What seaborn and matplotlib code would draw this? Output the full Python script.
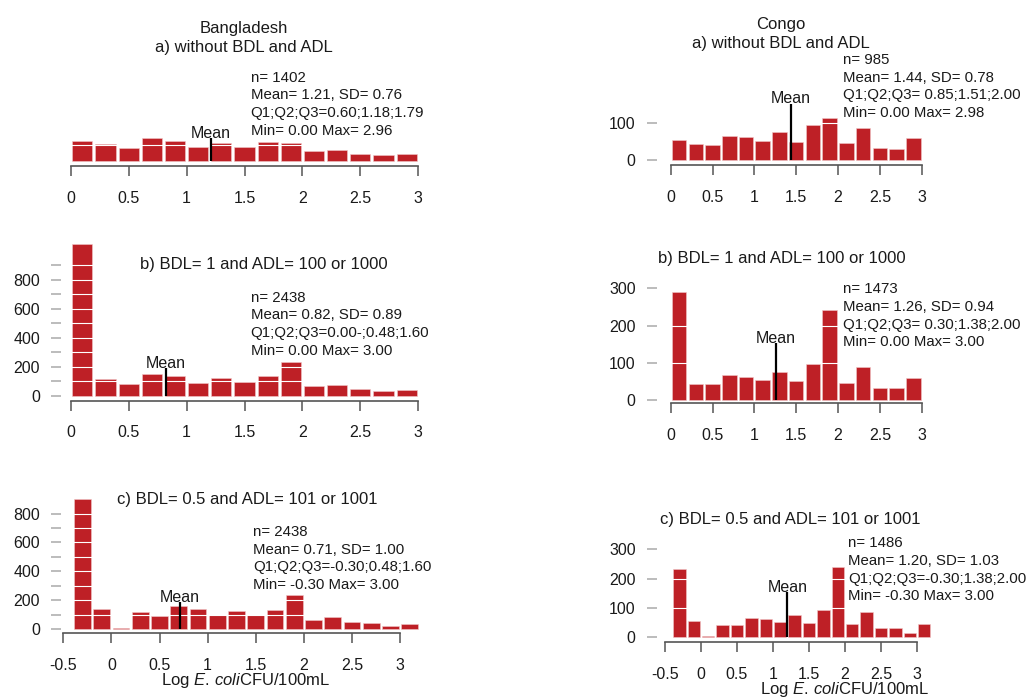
import numpy as np
import pandas as pd
import seaborn as sns
import matplotlib.pyplot as plt

# Figure size in pixels (saved at dpi 100)
W, H = 1031, 697

sns.set_style("white")
plt.rcParams['font.family'] = ['Liberation Sans', 'DejaVu Sans']
plt.rcParams['mathtext.fontset'] = 'custom'
plt.rcParams['mathtext.rm'] = 'Liberation Sans'
plt.rcParams['mathtext.it'] = 'Liberation Sans:italic'

# Histogram bin edges
edges_ab = [0.0, 0.2, 0.4, 0.6, 0.8, 1.0, 1.2, 1.4, 1.6, 1.8, 2.0, 2.2, 2.4, 2.6, 2.8, 3.0]
edges_c = [-0.4, -0.2] + edges_ab + [3.2]

# Counts per bin
bang_a = [130, 109, 82, 149, 130, 92, 113, 92, 124, 115, 63, 74, 46, 40, 44]
bang_b = [1042, 115, 85, 154, 138, 92, 122, 94, 134, 233, 67, 78, 46, 37, 44]
bang_c = [900, 140, 7, 119, 88, 160, 140, 95, 123, 95, 135, 235, 65, 81, 49, 40, 19, 35]
congo_a = [55, 44, 40, 66, 62, 52, 76, 49, 95, 114, 46, 87, 33, 30, 60]
congo_b = [290, 43, 41, 66, 62, 53, 76, 50, 95, 242, 46, 87, 32, 31, 59]
congo_c = [234, 56, 3, 42, 41, 66, 61, 53, 75, 49, 94, 241, 45, 86, 32, 31, 16, 44]

# Means and the height of the mean marker
means = [1.21, 0.82, 0.71, 1.44, 1.26, 1.20]
mean_marks = [145, 189, 184, 152, 152, 153]

# Summary text per panel
stats = [
    ["n= 1402", "Mean= 1.21, SD= 0.76", "Q1;Q2;Q3=0.60;1.18;1.79", "Min= 0.00 Max= 2.96"],
    ["n= 2438", "Mean= 0.82, SD= 0.89", "Q1;Q2;Q3=0.00-;0.48;1.60", "Min= 0.00 Max= 3.00"],
    ["n= 2438", "Mean= 0.71, SD= 1.00", "Q1;Q2;Q3=-0.30;0.48;1.60", "Min= -0.30 Max= 3.00"],
    ["n= 985", "Mean= 1.44, SD= 0.78", "Q1;Q2;Q3= 0.85;1.51;2.00", "Min= 0.00 Max= 2.98"],
    ["n= 1473", "Mean= 1.26, SD= 0.94", "Q1;Q2;Q3= 0.30;1.38;2.00", "Min= 0.00 Max= 3.00"],
    ["n= 1486", "Mean= 1.20, SD= 1.03", "Q1;Q2;Q3=-0.30;1.38;2.00", "Min= -0.30 Max= 3.00"],
]
titles = [
    "Bangladesh\na) without BDL and ADL",
    "b) BDL= 1 and ADL= 100 or 1000",
    "c) BDL= 0.5 and ADL= 101 or 1001",
    "Congo\na) without BDL and ADL",
    "b) BDL= 1 and ADL= 100 or 1000",
    "c) BDL= 0.5 and ADL= 101 or 1001",
]

xticks_ab = [0, 0.5, 1, 1.5, 2, 2.5, 3]
xlabels_ab = ["0", "0.5", "1", "1.5", "2", "2.5", "3"]
xticks_c = [-0.5] + xticks_ab
xlabels_c = ["-0.5"] + xlabels_ab

yticks_bb = [0, 100, 200, 300, 400, 500, 600, 700, 800, 900]
ylabels_bb = ["0", "", "200", "", "400", "", "600", "", "800", ""]
yticks_bc = yticks_bb[:-1]
ylabels_bc = ylabels_bb[:-1]
yticks_ca = [0, 100]
yticks_cb = [0, 100, 200, 300]

counts = [bang_a, bang_b, bang_c, congo_a, congo_b, congo_c]
bins = [edges_ab, edges_ab, edges_c, edges_ab, edges_ab, edges_c]
xticks = [(xticks_ab, xlabels_ab), (xticks_ab, xlabels_ab), (xticks_c, xlabels_c)] * 2
yticks = [([], []), (yticks_bb, ylabels_bb), (yticks_bc, ylabels_bc),
          (yticks_ca, [str(v) for v in yticks_ca]),
          (yticks_cb, [str(v) for v in yticks_cb]),
          (yticks_cb, [str(v) for v in yticks_cb])]
white_lines = [[100, 200]] + [t[0][1:] for t in yticks[1:]]

# Layout in pixels: x reference points, axes left/right, baseline, px per count, axis line, top
layout = [
    dict(xref=((70.8, 0), (418.3, 3)), left=61, right=432, base=161.3, scale=0.159, bottom=166, top=40),
    dict(xref=((70.7, 0), (418.3, 3)), left=61, right=432, base=396.0, scale=0.1456, bottom=400.5, top=239),
    dict(xref=((63.3, -0.5), (400.0, 3)), left=61, right=433, base=629.0, scale=0.1442, bottom=633.0, top=494),
    dict(xref=((670.7, 0), (921.7, 3)), left=656.7, right=932, base=160.3, scale=0.37, bottom=165, top=40),
    dict(xref=((670.7, 0), (921.7, 3)), left=656.7, right=932, base=399.7, scale=0.371, bottom=403, top=280),
    dict(xref=((665.0, -0.5), (917.0, 3)), left=656.7, right=942, base=637.3, scale=0.2933, bottom=642, top=540),
]
# title centre x, baseline of the (last) title line
title_pos = [(244, 52), (263.5, 269), (247.5, 504.3), (781, 47.7), (782, 263.3), (790, 524.3)]
stats_pos = [(250.7, 81.7), (250.7, 301.7), (253.3, 536), (842.7, 64), (842.7, 293.3), (848.3, 547.3)]

RED = '#BE2026'
TXT = '#1a1a1a'

fig = plt.figure(figsize=(W / 100, H / 100), dpi=100)

for i in range(6):
    L = layout[i]
    (p0, v0), (p1, v1) = L['xref']
    sx = (p1 - p0) / (v1 - v0)
    xlim = (v0 + (L['left'] - p0) / sx, v0 + (L['right'] - p0) / sx)
    ylim = (-(L['bottom'] - L['base']) / L['scale'], (L['base'] - L['top']) / L['scale'])
    ax = fig.add_axes([L['left'] / W, 1 - L['bottom'] / H,
                       (L['right'] - L['left']) / W, (L['bottom'] - L['top']) / H])

    # bars from the counts; the gaps between bars come from shrink
    e = bins[i]
    centers = [(a + b) / 2 for a, b in zip(e[:-1], e[1:])]
    df = pd.DataFrame({'x': centers, 'n': counts[i]})
    sns.histplot(data=df, x='x', weights='n', bins=e, color=RED, edgecolor='#f0c8c8',
                 linewidth=0.4, shrink=0.87, alpha=1, ax=ax)

    # white lines through the bars at the tick levels
    for v in white_lines[i]:
        ax.axhline(v, color='white', lw=0.8, zorder=3)

    # mean marker
    ax.vlines(means[i], 0, mean_marks[i], color='black', lw=1.6, zorder=4)
    ax.annotate("Mean", (means[i], mean_marks[i]), xytext=(0, 0.5), textcoords='offset points',
                ha='center', va='baseline', fontsize=11.5, color=TXT)

    ax.set_xlim(xlim)
    ax.set_ylim(ylim)
    ax.set_xlabel('')
    ax.set_ylabel('')
    ax.patch.set_alpha(0)

    for s in ['top', 'right', 'left']:
        ax.spines[s].set_visible(False)
    xt, xl = xticks[i]
    ax.set_xticks(xt, xl)
    ax.spines['bottom'].set_bounds(xt[0], xt[-1])
    ax.spines['bottom'].set_color('#555555')
    ax.spines['bottom'].set_linewidth(1.2)
    ax.tick_params(axis='x', bottom=True, length=7.2, width=1.1, color='#555555', pad=10.5,
                   labelsize=11.5, labelcolor=TXT)
    yt, yl = yticks[i]
    ax.set_yticks(yt, yl)
    ax.tick_params(axis='y', left=True, length=7.2, width=1.1, color='#aaaaaa', pad=8,
                   labelsize=11.5, labelcolor=TXT)

    # titles and summary text
    tx, ty = title_pos[i]
    lines = titles[i].split('\n')
    for k, line in enumerate(reversed(lines)):
        fig.text(tx / W, 1 - (ty - 19 * k) / H, line, ha='center', va='baseline',
                 fontsize=12, color=TXT)
    sx0, sy0 = stats_pos[i]
    for k, line in enumerate(stats[i]):
        fig.text(sx0 / W, 1 - (sy0 + 17.7 * k) / H, line, ha='left', va='baseline',
                 fontsize=10.8, color=TXT)

# x axis labels under the bottom row
xlab = r"Log $\mathit{E.\,coli}$CFU/100mL"
fig.text(246 / W, 1 - 685 / H, xlab, ha='center', va='baseline', fontsize=12, color=TXT)
fig.text(845 / W, 1 - 694 / H, xlab, ha='center', va='baseline', fontsize=12, color=TXT)

fig.savefig('out.png', dpi=100)
